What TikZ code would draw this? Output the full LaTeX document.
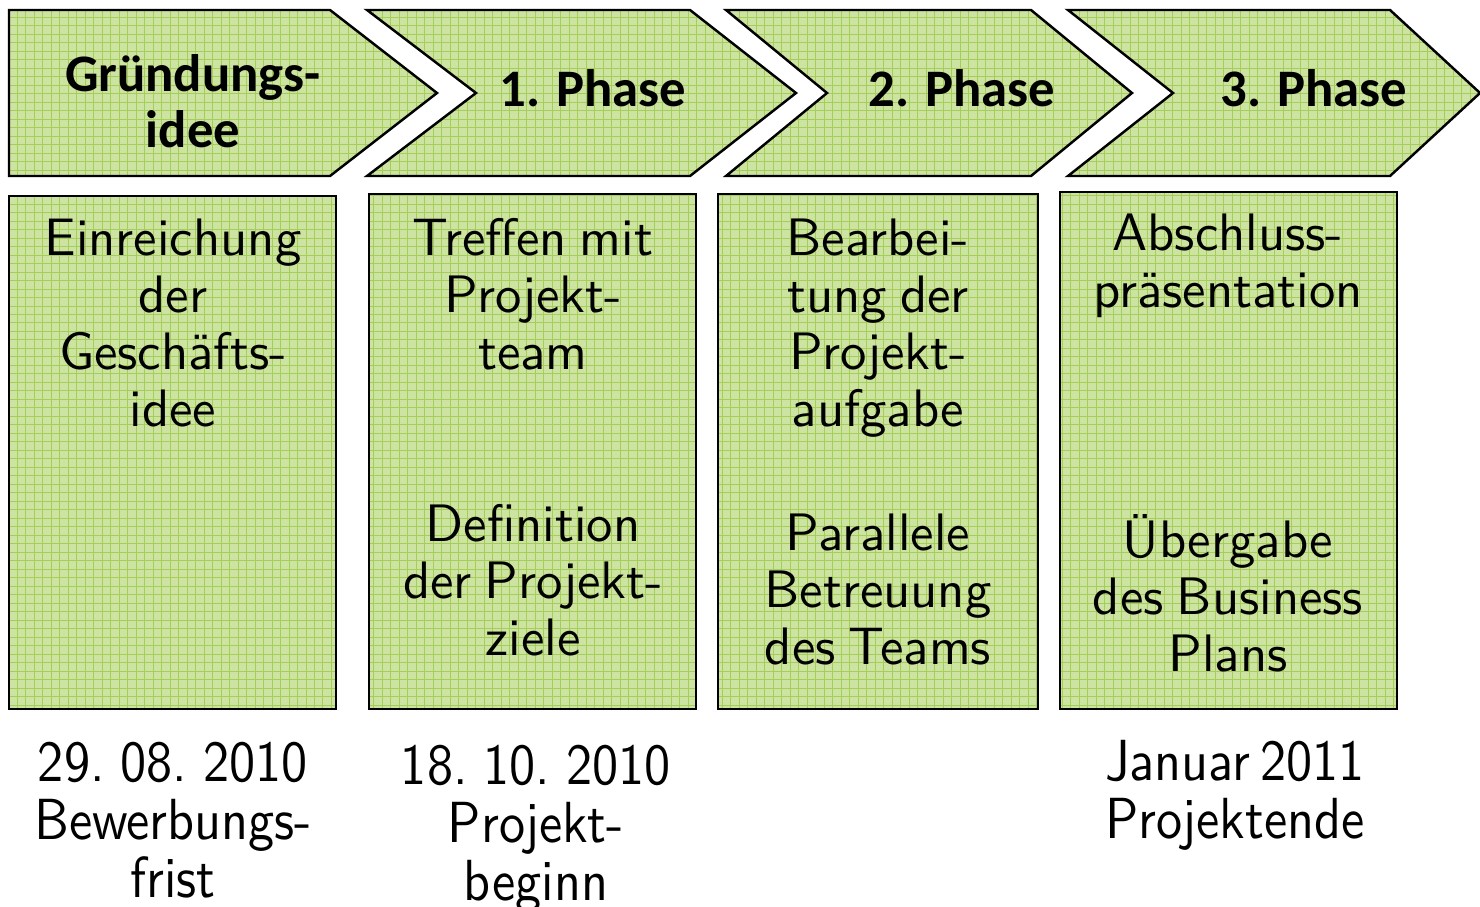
\documentclass[tikz,border=0pt]{standalone}
\usepackage{fontspec}
\usepackage{xcolor}
\newfontfamily\headfont{Carlito}
\newfontfamily\bodyfont{lmsans10-regular.otf}[WordSpace=0.75]
\newfontfamily\datefont{lmsans10-regular.otf}[FakeStretch=0.9, WordSpace=0.6]

\definecolor{phasegreen}{RGB}{205,227,162}
\definecolor{gridgreen}{RGB}{165,206,88}

\tikzset{
    greenbox/.style={draw=black, line width=1.4pt, fill=phasegreen,
        path picture={\draw[gridgreen, line width=0.5pt, step=0.17cm]
            (path picture bounding box.south west) grid (path picture bounding box.north east);}},
    headtext/.style={anchor=base, align=center, inner sep=0pt,
        font=\headfont\bfseries\fontsize{30}{31.8}\selectfont},
    boxtext/.style={anchor=base, align=center, inner sep=0pt,
        font=\bodyfont\fontsize{30}{32.3}\selectfont},
    datetext/.style={anchor=base, align=center, inner sep=0pt,
        font=\datefont\fontsize{33}{33}\selectfont}
}

\begin{document}
\begin{tikzpicture}[x=0.02cm, y=-0.02cm]
    \useasboundingbox (0,0) rectangle (1480,906);

    % phase arrows
    \draw[greenbox] (9,10) -- (330,10) -- (437,93) -- (330,176) -- (9,176) -- cycle;
    \draw[greenbox] (367,10) -- (690,10) -- (796,93) -- (690,176) -- (367,176) -- (476,93) -- cycle;
    \draw[greenbox] (726,10) -- (1031,10) -- (1132,93) -- (1031,176) -- (726,176) -- (827,93) -- cycle;
    \draw[greenbox] (1068,10) -- (1390,10) -- (1480,93) -- (1390,176) -- (1068,176) -- (1173,93) -- cycle;

    % base = baseline of the last line
    \node[headtext] (idee) at (193,147) {Gründungs-\\idee};
    \node[headtext] (phase1) at (593,106) {1. Phase};
    \node[headtext] (phase2) at (962,106) {2. Phase};
    \node[headtext] (phase3) at (1314,106) {3. Phase};

    % task boxes
    \draw[greenbox] (9,196) rectangle (336,709);
    \draw[greenbox] (369,194) rectangle (696,709);
    \draw[greenbox] (718,194) rectangle (1038,709);
    \draw[greenbox] (1060,192) rectangle (1397,709);

    \node[boxtext] (einreichung) at (173,426) {Einreichung\\der\\Geschäfts-\\idee};
    \node[boxtext] (treffen) at (533,369) {Treffen mit\\Projekt-\\team};
    \node[boxtext] (definition) at (533,655) {Definition\\der Projekt-\\ziele};
    \node[boxtext] (bearbeitung) at (878,426) {Bearbei-\\tung der\\Projekt-\\aufgabe};
    \node[boxtext] (betreuung) at (878,664) {Parallele\\Betreuung\\des Teams};
    \node[boxtext] (abschluss) at (1228,307) {Abschluss-\\präsentation};
    \node[boxtext] (uebergabe) at (1228,671) {Übergabe\\des Business\\Plans};

    % dates
    \node[datetext] (frist) at (173,897) {29. 08. 2010\\Bewerbungs-\\frist};
    \node[datetext] (beginn) at (536,900) {18. 10. 2010\\Projekt-\\beginn};
    \node[datetext] (ende) at (1235,838) {Januar 2011\\Projektende};
\end{tikzpicture}
\end{document}
